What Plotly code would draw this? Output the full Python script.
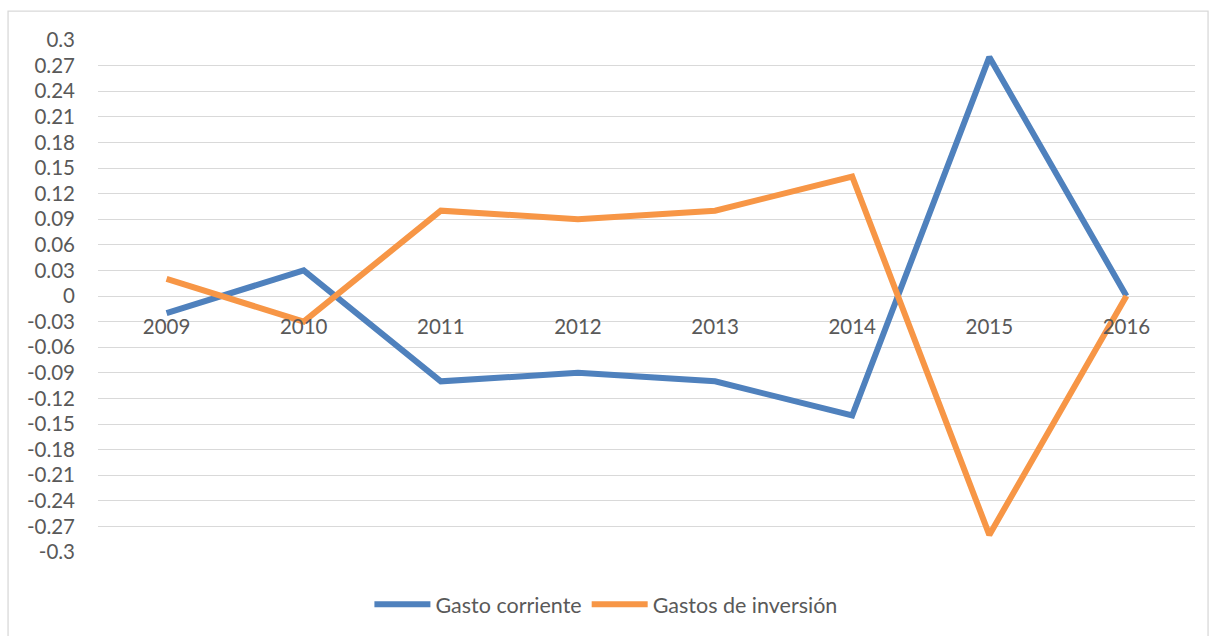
import plotly.graph_objects as go

years = ["2009", "2010", "2011", "2012", "2013", "2014", "2015", "2016"]
gasto_corriente = [-0.02, 0.03, -0.10, -0.09, -0.10, -0.14, 0.28, 0.0]
gastos_inversion = [0.02, -0.03, 0.10, 0.09, 0.10, 0.14, -0.28, 0.0]
y_tick_vals = [0.3, 0.27, 0.24, 0.21, 0.18, 0.15, 0.12, 0.09, 0.06, 0.03, 0,
               -0.03, -0.06, -0.09, -0.12, -0.15, -0.18, -0.21, -0.24, -0.27, -0.3]
y_tick_text = ["0.3", "0.27", "0.24", "0.21", "0.18", "0.15", "0.12", "0.09", "0.06", "0.03", "0",
               "-0.03", "-0.06", "-0.09", "-0.12", "-0.15", "-0.18", "-0.21", "-0.24", "-0.27", "-0.3"]

FONT = "Lato, Calibri, Carlito, sans-serif"
TXT = "#595959"
FS = 20.5

fig = go.Figure()
fig.add_trace(go.Scatter(x=years, y=gasto_corriente, mode="lines", name="Gasto corriente",
                         line=dict(color="#4F81BD", width=6)))
fig.add_trace(go.Scatter(x=years, y=gastos_inversion, mode="lines", name="Gastos de inversión",
                         line=dict(color="#F79646", width=6)))

fig.update_layout(
    width=1215, height=636,
    margin=dict(l=98, r=20, t=40, b=83),
    paper_bgcolor="white", plot_bgcolor="white",
    font=dict(family=FONT, size=FS, color=TXT),
    showlegend=True,
    legend=dict(orientation="h", x=0.463, xanchor="center", y=-0.1, yanchor="middle",
                font=dict(size=21.5, color=TXT), itemwidth=56, tracegroupgap=0),
    xaxis=dict(type="category", range=[-0.5, 7.5], anchor="free", position=0.5,
               showgrid=False, showline=False, zeroline=False, ticks="",
               ticklabelstandoff=16, tickfont=dict(size=FS, color=TXT)),
    yaxis=dict(range=[-0.3, 0.3], tickvals=y_tick_vals, ticktext=y_tick_text,
               showgrid=True, gridcolor="#D9D9D9", gridwidth=1.3,
               zeroline=True, zerolinecolor="#D9D9D9", zerolinewidth=1.3,
               showline=False, ticks="", ticklabelstandoff=22,
               tickfont=dict(size=FS, color=TXT)),
    shapes=[dict(type="rect", xref="paper", yref="paper",
                 x0=-0.082, x1=1.0119, y0=-0.2, y1=1.0565,
                 line=dict(color="#D9D9D9", width=1.3), fillcolor="rgba(0,0,0,0)", layer="below")],
)

fig.write_html("out.html", config={"displayModeBar": False},
               post_script="document.body.style.margin='0';document.body.style.padding='0';")
